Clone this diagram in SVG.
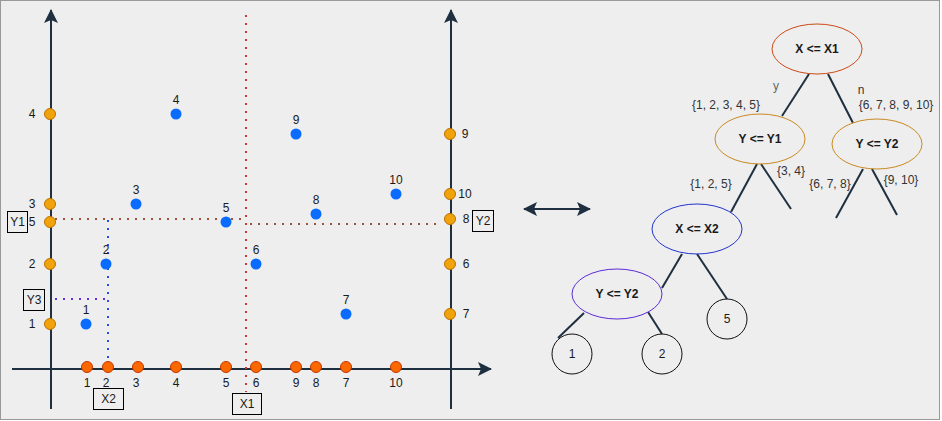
<svg xmlns="http://www.w3.org/2000/svg" width="942" height="421" viewBox="0 0 942 421">
<style>
text{font-family:"Liberation Sans",Arial,sans-serif;font-size:12px;fill:#1a1a1a;}
.n{text-anchor:middle;dominant-baseline:central;}
.b{font-weight:bold;}
.lbl{font-size:12px;text-anchor:middle;dominant-baseline:central;}
.axis{stroke:#1e3040;stroke-width:2;fill:none;}
.edge{stroke:#1e3040;stroke-width:2;fill:none;}
.pb{fill:#0a6cff;}
.po{fill:#f0a30a;stroke:#bd7000;stroke-width:1;}
.pr{fill:#fa6800;stroke:#c73500;stroke-width:1;}
.box{fill:none;stroke:#000000;stroke-width:1;}
.dot{fill:none;stroke-width:2;stroke-dasharray:2 6;}
</style>
<defs>
<marker id="ah" viewBox="0 0 14 14" refX="13" refY="7" markerWidth="14" markerHeight="14" markerUnits="userSpaceOnUse" orient="auto-start-reverse">
<path d="M0,0 L14,7 L0,14 L3,7 Z" fill="#1e3040"/>
</marker>
</defs>
<rect x="0.5" y="0.5" width="939" height="419" fill="#eeeeee" stroke="#999999"/>

<g id="axes">
<line class="axis" x1="51" y1="409" x2="51" y2="10" marker-end="url(#ah)"/>
<line class="axis" x1="451" y1="409" x2="451" y2="10" marker-end="url(#ah)"/>
<line class="axis" x1="12" y1="369" x2="491" y2="369" marker-end="url(#ah)"/>
</g>

<g id="split-lines">
<line class="dot" x1="246" y1="15" x2="246" y2="392" stroke="#c43a3a"/>
<line class="dot" x1="55" y1="219" x2="246" y2="219" stroke="#a0523a"/>
<line class="dot" x1="250" y1="224" x2="442" y2="224" stroke="#a0523a"/>
<line class="dot" x1="108" y1="220" x2="108" y2="365" stroke="#2a4fe8"/>
<line class="dot" x1="55" y1="299" x2="106" y2="299" stroke="#6a2be0"/>
</g>

<g id="left-axis-points">
<circle class="po" cx="50" cy="114" r="5.5"/><text class="n" x="32" y="114">4</text>
<circle class="po" cx="50" cy="204" r="5.5"/><text class="n" x="32" y="204">3</text>
<circle class="po" cx="50" cy="222" r="5.5"/><text class="n" x="32" y="222">5</text>
<circle class="po" cx="50" cy="264" r="5.5"/><text class="n" x="32" y="264">2</text>
<circle class="po" cx="50" cy="324" r="5.5"/><text class="n" x="32" y="324">1</text>
</g>

<g id="right-axis-points">
<circle class="po" cx="450" cy="134" r="5.5"/><text class="n" x="465" y="134">9</text>
<circle class="po" cx="450" cy="194" r="5.5"/><text class="n" x="465" y="194">10</text>
<circle class="po" cx="450" cy="219" r="5.5"/><text class="n" x="466" y="219">8</text>
<circle class="po" cx="450" cy="264" r="5.5"/><text class="n" x="466" y="264">6</text>
<circle class="po" cx="450" cy="314" r="5.5"/><text class="n" x="466" y="314">7</text>
</g>

<g id="bottom-axis-points">
<circle class="pr" cx="87" cy="367" r="5.5"/><text class="n" x="87" y="383">1</text>
<circle class="pr" cx="108" cy="367" r="5.5"/><text class="n" x="106" y="383">2</text>
<circle class="pr" cx="138" cy="367" r="5.5"/><text class="n" x="136" y="383">3</text>
<circle class="pr" cx="176" cy="367" r="5.5"/><text class="n" x="176" y="383">4</text>
<circle class="pr" cx="226" cy="367" r="5.5"/><text class="n" x="226" y="383">5</text>
<circle class="pr" cx="256" cy="367" r="5.5"/><text class="n" x="256" y="383">6</text>
<circle class="pr" cx="296" cy="367" r="5.5"/><text class="n" x="296" y="383">9</text>
<circle class="pr" cx="316" cy="367" r="5.5"/><text class="n" x="316" y="383">8</text>
<circle class="pr" cx="346" cy="367" r="5.5"/><text class="n" x="346" y="383">7</text>
<circle class="pr" cx="396" cy="367" r="5.5"/><text class="n" x="396" y="383">10</text>
</g>

<g id="data-points">
<circle class="pb" cx="86" cy="324" r="5.5"/><text class="n" x="86" y="310">1</text>
<circle class="pb" cx="106" cy="264" r="5.5"/><text class="n" x="106" y="250">2</text>
<circle class="pb" cx="136" cy="204" r="5.5"/><text class="n" x="136" y="190">3</text>
<circle class="pb" cx="176" cy="114" r="5.5"/><text class="n" x="176" y="100">4</text>
<circle class="pb" cx="226" cy="222" r="5.5"/><text class="n" x="226" y="208">5</text>
<circle class="pb" cx="256" cy="264" r="5.5"/><text class="n" x="256" y="250">6</text>
<circle class="pb" cx="346" cy="314" r="5.5"/><text class="n" x="346" y="300">7</text>
<circle class="pb" cx="316" cy="214" r="5.5"/><text class="n" x="316" y="200">8</text>
<circle class="pb" cx="296" cy="134" r="5.5"/><text class="n" x="296" y="120">9</text>
<circle class="pb" cx="396" cy="194" r="5.5"/><text class="n" x="396" y="180">10</text>
</g>

<g id="label-Y1"><rect class="box" x="7.5" y="211.5" width="20" height="21"/><text class="n" x="17.5" y="222">Y1</text></g>
<g id="label-Y3"><rect class="box" x="23.5" y="289.5" width="21" height="21"/><text class="n" x="34" y="300">Y3</text></g>
<g id="label-X2"><rect class="box" x="93.5" y="388.5" width="30" height="21"/><text class="n" x="108.5" y="399">X2</text></g>
<g id="label-X1"><rect class="box" x="232.5" y="393.5" width="29" height="21"/><text class="n" x="247" y="404">X1</text></g>
<g id="label-Y2"><rect class="box" x="472.5" y="210.5" width="21" height="21"/><text class="n" x="483" y="221">Y2</text></g>

<g id="double-arrow">
<line class="axis" x1="524" y1="209" x2="590" y2="209" marker-start="url(#ah)" marker-end="url(#ah)"/>
</g>

<g id="tree-edges">
<line class="edge" x1="809" y1="74" x2="782" y2="116"/>
<line class="edge" x1="828" y1="74" x2="853" y2="123"/>
<line class="edge" x1="757" y1="164" x2="731" y2="212"/>
<line class="edge" x1="761" y1="164" x2="791" y2="209"/>
<line class="edge" x1="863" y1="169" x2="836" y2="218"/>
<line class="edge" x1="872" y1="169" x2="897" y2="215"/>
<line class="edge" x1="682" y1="254" x2="662" y2="288"/>
<line class="edge" x1="697" y1="254" x2="727" y2="299"/>
<line class="edge" x1="584" y1="313" x2="558" y2="338"/>
<line class="edge" x1="648" y1="312" x2="662" y2="334"/>
<text class="lbl" x="776" y="86" fill="#666666" style="fill:#666666">y</text>
<text class="lbl" x="861" y="90" fill="#333333" style="fill:#333333">n</text>
<text class="lbl" x="726" y="105" style="fill:#333333">{1, 2, 3, 4, 5}</text>
<text class="lbl" x="896" y="105" style="fill:#333333">{6, 7, 8, 9, 10}</text>
<text class="lbl" x="791" y="171" style="fill:#333333">{3, 4}</text>
<text class="lbl" x="711" y="184" style="fill:#333333">{1, 2, 5}</text>
<text class="lbl" x="830" y="184" style="fill:#333333">{6, 7, 8}</text>
<text class="lbl" x="901" y="180" style="fill:#333333">{9, 10}</text>
</g>

<g id="node-root"><ellipse cx="817" cy="49" rx="45" ry="25" fill="none" stroke="#cc4a14"/><text class="n b" x="817" y="49">X &lt;= X1</text></g>
<g id="node-y1"><ellipse cx="760" cy="139" rx="45" ry="25" fill="none" stroke="#c98a22"/><text class="n b" x="760" y="139">Y &lt;= Y1</text></g>
<g id="node-y2"><ellipse cx="877" cy="144" rx="45" ry="25" fill="none" stroke="#c98a22"/><text class="n b" x="877" y="144">Y &lt;= Y2</text></g>
<g id="node-x2"><ellipse cx="697" cy="229" rx="45" ry="25" fill="none" stroke="#2233cc"/><text class="n b" x="697" y="229">X &lt;= X2</text></g>
<g id="node-y2b"><ellipse cx="617" cy="294" rx="45" ry="25" fill="none" stroke="#5b2bd6"/><text class="n b" x="617" y="294">Y &lt;= Y2</text></g>
<g id="leaf-1"><circle cx="572" cy="354" r="20" fill="none" stroke="#111"/><text class="n" x="572" y="354">1</text></g>
<g id="leaf-2"><circle cx="662" cy="354" r="20" fill="none" stroke="#111"/><text class="n" x="662" y="354">2</text></g>
<g id="leaf-5"><circle cx="727" cy="319" r="20" fill="none" stroke="#111"/><text class="n" x="727" y="319">5</text></g>
</svg>
